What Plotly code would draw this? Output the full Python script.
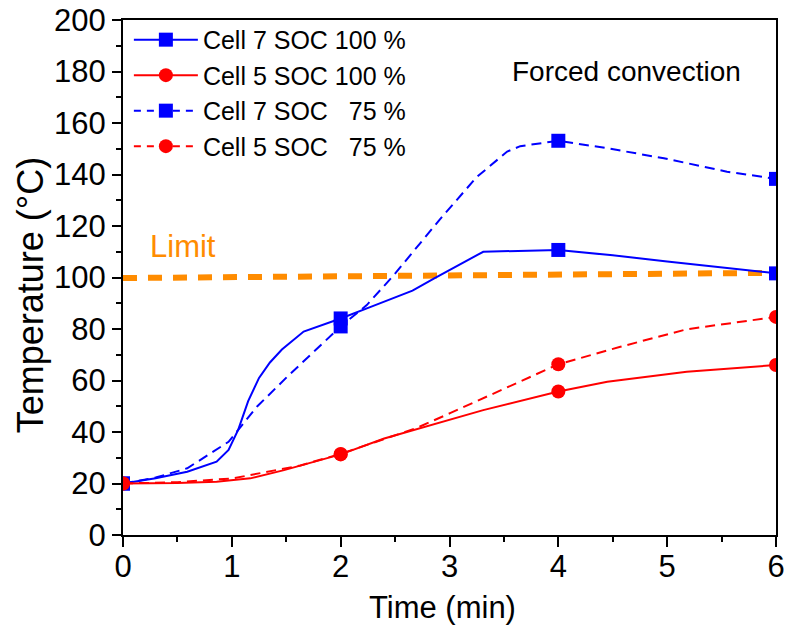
import plotly.graph_objects as go

# ---- data ----
t_c7_100 = [0, 0.3, 0.59, 0.86, 0.97, 1.06, 1.15, 1.25, 1.35, 1.46, 1.66, 2.0, 2.3, 2.66, 2.86, 3.0, 3.31, 4.0, 4.5, 5.0, 5.5, 6.0]
v_c7_100 = [20, 22, 24.6, 28.5, 33, 41, 52, 61, 67, 72, 79, 84.1, 89, 94.9, 99.7, 103, 110, 110.7, 108.6, 106.2, 104, 101.6]

t_c7_75 = [0, 0.3, 0.59, 0.97, 1.23, 1.51, 2.0, 2.24, 2.49, 2.73, 2.91, 3.25, 3.53, 3.65, 4.0, 4.45, 4.97, 5.55, 6.0]
v_c7_75 = [20, 22.3, 25.9, 36.2, 49.8, 61.5, 81, 89.3, 101, 113.3, 122.5, 139, 148.9, 151, 153.1, 150.2, 146.3, 141.1, 138.3]

t_c5_100 = [0, 0.5, 0.86, 1.17, 1.48, 2.0, 2.4, 2.73, 3.0, 3.31, 4.0, 4.45, 5.18, 6.0]
v_c5_100 = [20, 20.2, 20.7, 22, 25.2, 31.3, 37.5, 41.5, 44.8, 48.5, 55.7, 59.5, 63.4, 66]

t_c5_75 = [0, 0.5, 1.01, 1.63, 2.0, 2.7, 3.01, 3.34, 4.0, 4.57, 5.18, 6.0]
v_c5_75 = [20, 20.5, 22, 27, 31.5, 41.6, 47.4, 53.7, 66.3, 73.1, 79.9, 84.7]

marker_times = [0, 2, 4, 6]

limit_t = [0, 6]
limit_v = [99.8, 101.8]

x_ticks = [0, 1, 2, 3, 4, 5, 6]
y_ticks = [0, 20, 40, 60, 80, 100, 120, 140, 160, 180, 200]

series = [
    ("Cell 7 SOC 100 %", t_c7_100, v_c7_100, "#0000FF", "solid", "square"),
    ("Cell 7 SOC\u00a0\u00a0\u00a075 %", t_c7_75, v_c7_75, "#0000FF", "dash", "square"),
    ("Cell 5 SOC 100 %", t_c5_100, v_c5_100, "#FF0000", "solid", "circle"),
    ("Cell 5 SOC\u00a0\u00a0\u00a075 %", t_c5_75, v_c5_75, "#FF0000", "dash", "circle"),
]
legend_order = [0, 2, 1, 3]

FONT = "Liberation Sans, Arial, sans-serif"
DASH = "10px,6px"

fig = go.Figure()

# limit line
fig.add_trace(go.Scatter(x=limit_t, y=limit_v, mode="lines",
                         line=dict(color="#FF8C00", width=6, dash="14px,11px"),
                         showlegend=False, hoverinfo="skip"))

for name, t, v, col, dash, sym in series:
    d = DASH if dash == "dash" else "solid"
    fig.add_trace(go.Scatter(x=t, y=v, mode="lines",
                             line=dict(color=col, width=2, dash=d),
                             showlegend=False))
    mx = [tt for tt in t if tt in marker_times]
    my = [vv for tt, vv in zip(t, v) if tt in marker_times]
    fig.add_trace(go.Scatter(x=mx, y=my, mode="markers",
                             marker=dict(color=col, size=14, symbol=sym),
                             showlegend=False))

# legend entries
for i, idx in enumerate(legend_order):
    name, t, v, col, dash, sym = series[idx]
    d = "7px,6px" if dash == "dash" else "solid"
    fig.add_trace(go.Scatter(x=[None], y=[None], mode="lines+markers", name=name,
                             line=dict(color=col, width=2, dash=d),
                             marker=dict(color=col, size=14, symbol=sym),
                             legendrank=i + 1))

fig.add_annotation(x=0.55, y=112, text="Limit", showarrow=False,
                   font=dict(family=FONT, size=31, color="#FF8C00"))
fig.add_annotation(x=4.63, y=180, text="Forced convection", showarrow=False,
                   font=dict(family=FONT, size=28, color="black"))
# axis titles
fig.add_annotation(xref="paper", yref="paper", x=-0.142, y=0.466,
                   xanchor="center", yanchor="middle",
                   text="Temperature (°C)", textangle=-90, showarrow=False,
                   font=dict(family=FONT, size=36, color="black"))
fig.add_annotation(xref="paper", yref="paper", x=0.49, y=-0.14,
                   xanchor="center", yanchor="middle",
                   text="Time (min)", showarrow=False,
                   font=dict(family=FONT, size=31, color="black"))

fig.update_layout(
    width=786, height=639,
    margin=dict(l=123, r=10, t=20, b=104),
    paper_bgcolor="white", plot_bgcolor="white",
    font=dict(family=FONT, size=28, color="black"),
    legend=dict(x=0.009, y=1.006, xanchor="left", yanchor="top",
                bgcolor="rgba(0,0,0,0)", font=dict(family=FONT, size=25),
                itemwidth=64, tracegroupgap=0),
)
fig.update_xaxes(range=[0, 6], tickvals=x_ticks, ticks="outside", ticklen=10,
                 tickwidth=2, tickcolor="black", showline=True, linewidth=2,
                 linecolor="black", mirror=True, showgrid=False, zeroline=False,
                 automargin=False, ticklabelstandoff=-7,
                 minor=dict(dtick=0.5, ticks="outside", ticklen=5, tickwidth=2,
                            tickcolor="black", showgrid=False),
                 tickfont=dict(size=31))
fig.update_yaxes(range=[0, 200], tickvals=y_ticks, ticks="outside", ticklen=9,
                 tickwidth=2, tickcolor="black", showline=True, linewidth=2,
                 linecolor="black", mirror=True, showgrid=False, zeroline=False,
                 automargin=False,
                 minor=dict(dtick=10, ticks="outside", ticklen=5, tickwidth=2,
                            tickcolor="black", showgrid=False),
                 tickfont=dict(size=31))

fig.write_html("out.html")
